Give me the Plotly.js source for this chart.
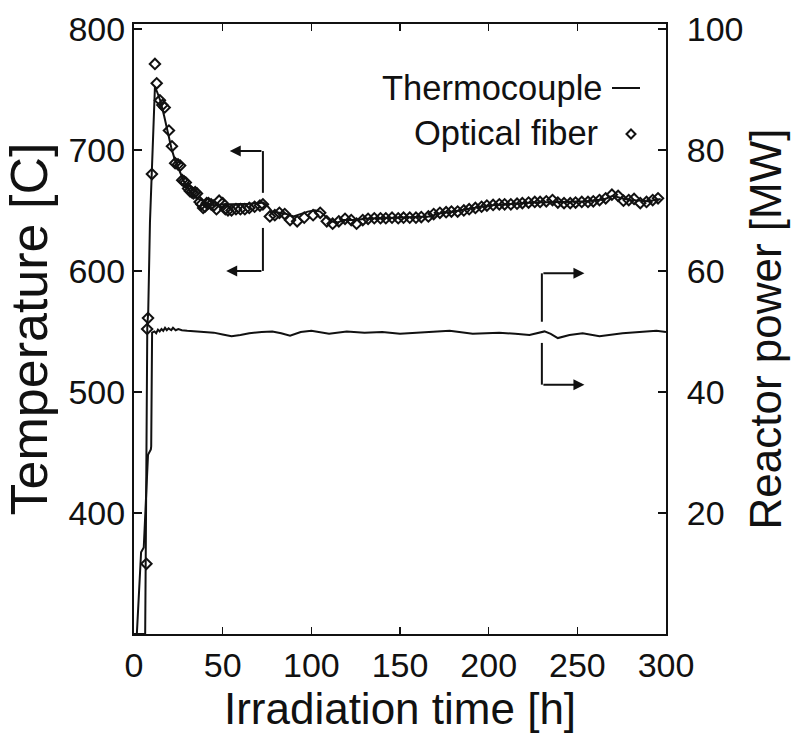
<!DOCTYPE html>
<html>
<head>
<meta charset="utf-8">
<script src="https://cdn.plot.ly/plotly-3.0.1.min.js"></script>
<style>html,body{margin:0;padding:0;background:#fff;}#chart{width:799px;height:738px;}</style>
</head>
<body>
<div id="chart"></div>
<script>
// Thermocouple temperature [C] vs irradiation time [h]
const tcTime = [0,6.3,6.6,7.5,8.0,9.0,10.5,11.8,13,15,17,19,21,23,25,27,29,31,33,35,37,40,43,46,50,55,60,65,70,73,75,78,82,86,90,94,98,102,105,108,111,115,118,122,126,130,140,150,160,167,172,180,190,200,210,225,240,255,265,270,275,280,290,297];
const tcTemp = [300,300,360,555,565,640,700,752,748,740,728,714,702,692,685,677,671,667,664,661,659,657,655,654,655,655,655,655.5,656,656.5,654,649,648,647,645,647,649,650,649,645,641,640,642,642,642,643,643.5,644,644.5,645,647.5,649,651.5,654,655,656.5,657,657.5,659,662,660,658.5,657.5,659.5];

// Optical fiber temperature [C]
const ofTime = [7.0,7.4,7.9,10.1,11.8,12.8,14.6,16.0,17.3,19.7,21.4,23.2,24.8,26.0,27.2,28.2,29.2,30.5,31.5,32.5,33.5,34.5,35.5,37.0,38.0,39.0,40.0,41.0,42.0,43.5,45.0,46.5,48.0,50.0,51.5,53.0,55.0,57.5,60.0,62.5,65.0,68.0,71.0,72.7,76.6,79.4,82.0,85.0,88.0,92.0,96.0,101.0,105.0,108.7,112.0,115.5,119.0,122.5,125.5,129,132,135.5,139,142,145.5,149,152,155.5,159,162,166,169,172.5,176,179,182.5,186,189,192.5,196,199,202.5,206,209,212.5,216,219,222.5,226,229,232.5,236,239,242.5,246,249,252.5,256,259,262.5,266,269.5,273,276,279,282,285.5,289,292.5,295.5];
const ofTemp = [358,552,561,680,771,755,741,737,735,716,703,689,688,687,675,674,673,668,666,665,664,665,664,657,655,652,653,656,656,655,654,651,658,656,651,650,650,651,651,651,652,653,654,655,645,646,648,647,642,641,644,646,648,641,639,641,643,642,639,642,643,643.5,643.5,643.5,644,643.5,644,644,644,644.5,645,647,648,648.5,649,649,650,651,652,653,654,654.5,655,655,655,655.5,656,656.5,657,657,657.5,658.5,656.5,656,656,656.5,657,657,657.5,658.5,660,663,662,658,658.5,659.5,656,657,658.5,660];

// Reactor power [MW]
const pwTime = [0,1.6,4.0,4.8,5.5,7.9,9.0,9.5,9.7,10.2,11.5,12.5,13.5,14.5,15.5,16.5,17.5,18.5,19.5,21,22,23.5,25,27,30,35,40,45,50,55,60,65,72,78,83,88,94,100,110,120,130,140,150,160,170,178,191,206,215,223,231.5,235,239,245.6,253,262.5,275.5,285,294.6,300];
const pwPower = [0,0,13.5,14,14.3,29.6,30.2,30.5,31,49.8,50,49.7,50.3,50,50.4,50.1,50.6,50.2,50.5,50.2,50.6,50.2,50.4,50.2,50.1,50,50,49.8,49.5,49.2,49.4,49.7,49.9,50,49.7,49.3,49.9,50.1,49.6,50,49.8,49.9,49.6,49.8,50,50.1,49.6,49.8,49.6,49.4,50,49.6,48.9,49.4,49.7,49.2,49.7,49.9,50.1,49.9];

const xTicks = [0,50,100,150,200,250,300];
const yTicks = [400,500,600,700,800];
const y2Ticks = [20,40,60,80,100];

const SANS = '"Liberation Sans", Arial, Helvetica, sans-serif';

const traces = [
  {x: tcTime, y: tcTemp, type: 'scatter', mode: 'lines', name: 'Thermocouple',
   line: {color: '#111', width: 2}, showlegend: false},
  {x: ofTime, y: ofTemp, type: 'scatter', mode: 'markers', name: 'Optical fiber',
   marker: {symbol: 'diamond-open', size: 8, color: '#111', line: {width: 2, color: '#111'}}, showlegend: false},
  {x: pwTime, y: pwPower, type: 'scatter', mode: 'lines', name: 'Reactor power', yaxis: 'y2',
   line: {color: '#111', width: 2}, showlegend: false}
];

const layout = {
  width: 799, height: 738,
  margin: {l: 134, r: 133, t: 24, b: 104},
  paper_bgcolor: '#fff', plot_bgcolor: '#fff',
  font: {family: SANS, color: '#111'},
  xaxis: {
    range: [0, 300], tickvals: xTicks, ticktext: xTicks.map(String),
    ticks: 'inside', ticklen: 7, tickwidth: 1.5, tickcolor: '#111',
    showline: true, linecolor: '#111', linewidth: 2, mirror: 'ticks',
    showgrid: false, zeroline: false,
    tickfont: {family: SANS, size: 34, color: '#111'},
    title: {text: 'Irradiation time [h]', font: {family: SANS, size: 44, color: '#111'}, standoff: 10}
  },
  yaxis: {
    range: [300, 804], tickvals: yTicks, ticktext: yTicks.map(String),
    ticks: 'inside', ticklen: 8, tickwidth: 1.5, tickcolor: '#111',
    showline: true, linecolor: '#111', linewidth: 2,
    showgrid: false, zeroline: false,
    tickfont: {family: SANS, size: 34, color: '#111'},
    title: {text: 'Temperature [C]', font: {family: SANS, size: 52, color: '#111'}, standoff: 4}
  },
  yaxis2: {
    range: [0, 100.8], overlaying: 'y', side: 'right',
    tickvals: y2Ticks, ticktext: y2Ticks.map(String),
    ticks: 'inside', ticklen: 8, tickwidth: 1.5, tickcolor: '#111',
    ticklabelstandoff: 12,
    showline: true, linecolor: '#111', linewidth: 2,
    showgrid: false, zeroline: false,
    tickfont: {family: SANS, size: 34, color: '#111'},
    title: {text: 'Reactor power [MW]', font: {family: SANS, size: 44, color: '#111'}, standoff: 8}
  },
  shapes: [
    // left-pointing bracket (temperature axis)
    {type: 'line', xref: 'x', yref: 'y', x0: 72.7, x1: 72.7, y0: 699, y1: 664.5, line: {color: '#111', width: 2}},
    {type: 'line', xref: 'x', yref: 'y', x0: 72.7, x1: 72.7, y0: 635.5, y1: 600, line: {color: '#111', width: 2}},
    // right-pointing bracket (power axis)
    {type: 'line', xref: 'x', yref: 'y', x0: 230, x1: 230, y0: 598, y1: 558, line: {color: '#111', width: 2}},
    {type: 'line', xref: 'x', yref: 'y', x0: 230, x1: 230, y0: 540.5, y1: 506, line: {color: '#111', width: 2}},
    // legend line sample
    {type: 'line', xref: 'paper', yref: 'paper', x0: (612-134)/532, x1: (640-134)/532, y0: (634-88)/610, y1: (634-88)/610, line: {color: '#111', width: 2}},
    // legend diamond sample
    {type: 'path', xref: 'paper', yref: 'paper',
     path: 'M ' + ((631-134)/532) + ' ' + ((634-129.5)/610) + ' L ' + ((635.5-134)/532) + ' ' + ((634-134)/610) + ' L ' + ((631-134)/532) + ' ' + ((634-138.5)/610) + ' L ' + ((626.5-134)/532) + ' ' + ((634-134)/610) + ' Z',
     line: {color: '#111', width: 2}}
  ],
  annotations: [
    {x: 54, y: 699, ax: 72.7, ay: 699, xref: 'x', yref: 'y', axref: 'x', ayref: 'y', text: '', showarrow: true, arrowhead: 2, arrowsize: 1.1, arrowwidth: 2, arrowcolor: '#111'},
    {x: 52, y: 600, ax: 72.7, ay: 600, xref: 'x', yref: 'y', axref: 'x', ayref: 'y', text: '', showarrow: true, arrowhead: 2, arrowsize: 1.1, arrowwidth: 2, arrowcolor: '#111'},
    {x: 254, y: 598, ax: 230, ay: 598, xref: 'x', yref: 'y', axref: 'x', ayref: 'y', text: '', showarrow: true, arrowhead: 2, arrowsize: 1.1, arrowwidth: 2, arrowcolor: '#111'},
    {x: 254, y: 506, ax: 230, ay: 506, xref: 'x', yref: 'y', axref: 'x', ayref: 'y', text: '', showarrow: true, arrowhead: 2, arrowsize: 1.1, arrowwidth: 2, arrowcolor: '#111'},
    {x: (605-134)/532, y: (634-88)/610, xref: 'paper', yref: 'paper', xanchor: 'right', yanchor: 'middle', showarrow: false,
     text: 'Thermocouple', font: {family: SANS, size: 34.5, color: '#111'}},
    {x: (600-134)/532, y: (634-133)/610, xref: 'paper', yref: 'paper', xanchor: 'right', yanchor: 'middle', showarrow: false,
     text: 'Optical fiber', font: {family: SANS, size: 34.5, color: '#111'}}
  ]
};

Plotly.newPlot('chart', traces, layout, {displayModeBar: false, staticPlot: true});
</script>
</body>
</html>
